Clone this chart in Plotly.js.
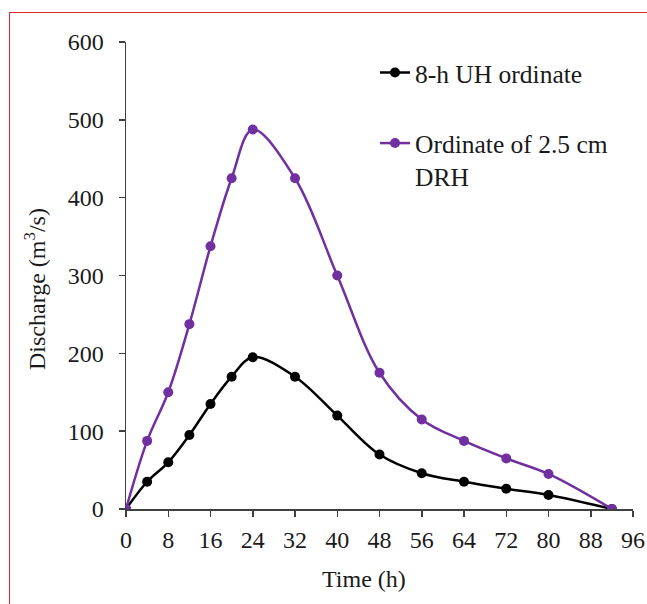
<!DOCTYPE html>
<html>
<head>
<meta charset="utf-8">
<script src="https://cdn.plot.ly/plotly-3.0.1.min.js"></script>
<style>
  html, body { margin: 0; padding: 0; background: #fff; }
  #wrap { position: relative; width: 647px; height: 604px; overflow: hidden; }
  #chart { position: absolute; left: 0; top: 0; width: 647px; height: 604px; }
  #frame { position: absolute; left: 9px; top: 12px; width: 700px; height: 700px;
           border-top: 1px solid #e3262b; border-left: 1px solid #e3262b; pointer-events: none; }
</style>
</head>
<body>
<div id="wrap">
  <div id="chart"></div>
  <div id="frame"></div>
</div>
<script>
// Time (h)
const time = [0, 4, 8, 12, 16, 20, 24, 32, 40, 48, 56, 64, 72, 80, 92];
// 8-h unit hydrograph ordinates (m3/s)
const uhOrdinate = [0, 35, 60, 95, 135, 170, 195, 170, 120, 70, 46, 35, 26, 18, 0];
// Ordinates of 2.5 cm direct runoff hydrograph (m3/s)
const drhOrdinate = [0, 87.5, 150, 237.5, 337.5, 425, 487.5, 425, 300, 175, 115, 87.5, 65, 45, 0];

const seriesNames = ['8-h UH ordinate', 'Ordinate of 2.5 cm<br>DRH'];
const xTicks = [0, 8, 16, 24, 32, 40, 48, 56, 64, 72, 80, 88, 96];
const yTicks = [0, 100, 200, 300, 400, 500, 600];

const FONT = '"Liberation Serif", "Times New Roman", serif';
const TXT = '#1a1a1a';

const traces = [
  {
    x: time, y: uhOrdinate, name: seriesNames[0], type: 'scatter', mode: 'lines+markers',
    line: { color: '#000000', width: 2.5, shape: 'spline', smoothing: 1 },
    marker: { color: '#000000', size: 10 },
    legend: 'legend'
  },
  {
    x: time, y: drhOrdinate, name: seriesNames[1], type: 'scatter', mode: 'lines+markers',
    line: { color: '#7030a0', width: 2.5, shape: 'spline', smoothing: 1 },
    marker: { color: '#7030a0', size: 10 },
    legend: 'legend2'
  }
];

const L = 126, R = 14, T = 42, B = 95;
const W = 647 - L - R, H = 604 - T - B;
const px = v => (v - L) / W;
const py = v => (604 - B - v) / H;

const layout = {
  width: 647, height: 604,
  margin: { l: L, r: R, t: T, b: B, pad: 0 },
  paper_bgcolor: 'rgba(0,0,0,0)', plot_bgcolor: 'rgba(0,0,0,0)',
  font: { family: FONT, color: TXT, size: 24 },
  showlegend: true,
  xaxis: {
    range: [0, 96], tickvals: xTicks, ticktext: xTicks.map(String),
    showgrid: false, zeroline: false, showline: true, linecolor: '#404040', linewidth: 1.5,
    ticks: 'outside', ticklen: 6, tickwidth: 1.5, tickcolor: '#404040', ticklabelstandoff: 3,
    tickfont: { family: FONT, size: 24, color: TXT }, fixedrange: true
  },
  yaxis: {
    range: [0, 600], tickvals: yTicks, ticktext: yTicks.map(String),
    showgrid: false, zeroline: false, showline: true, linecolor: '#404040', linewidth: 1.5,
    ticks: 'outside', ticklen: 6, tickwidth: 1.5, tickcolor: '#404040', ticklabelstandoff: 10,
    tickfont: { family: FONT, size: 24, color: TXT }, fixedrange: true
  },
  legend: {
    x: px(375), y: py(73), xanchor: 'left', yanchor: 'middle',
    bgcolor: 'rgba(0,0,0,0)', borderwidth: 0,
    font: { family: FONT, size: 25.5, color: TXT }, valign: 'top'
  },
  legend2: {
    x: px(375), y: py(120), xanchor: 'left', yanchor: 'top',
    bgcolor: 'rgba(0,0,0,0)', borderwidth: 0,
    font: { family: FONT, size: 25.5, color: TXT }, valign: 'top'
  },
  annotations: [
    { text: 'Time (h)', xref: 'paper', yref: 'paper', x: px(364), y: py(579),
      xanchor: 'center', yanchor: 'middle', showarrow: false,
      font: { family: FONT, size: 24, color: TXT } },
    { text: 'Discharge (m<sup>3</sup>/s)', xref: 'paper', yref: 'paper', x: px(35), y: py(289),
      xanchor: 'center', yanchor: 'middle', showarrow: false, textangle: -90,
      font: { family: FONT, size: 24, color: TXT } }
  ]
};

Plotly.newPlot('chart', traces, layout, { staticPlot: true, displayModeBar: false });
</script>
</body>
</html>
